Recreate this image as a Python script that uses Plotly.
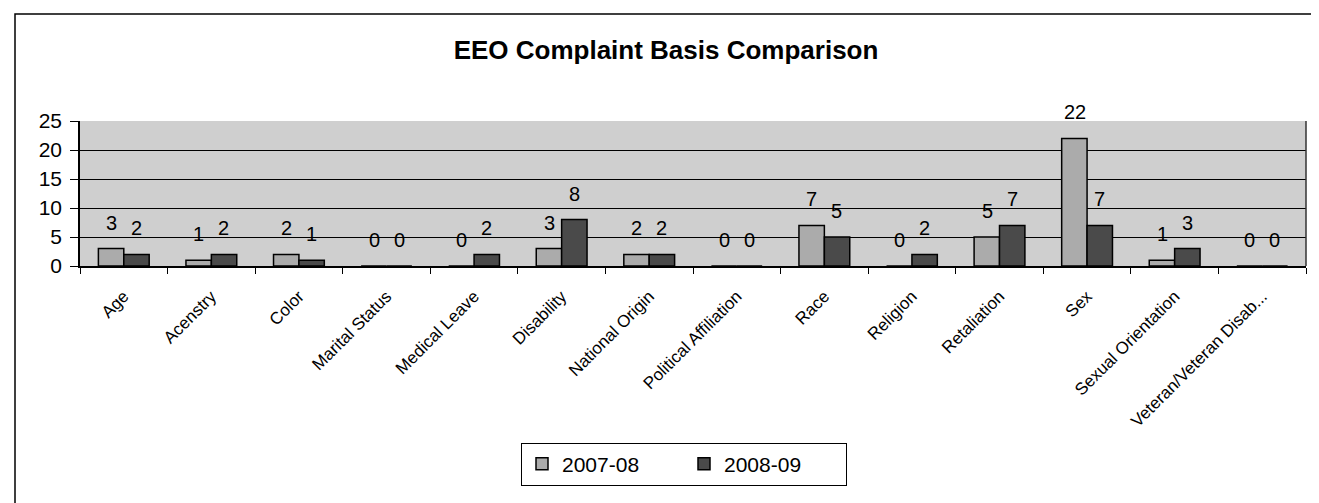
import plotly.graph_objects as go

categories = ["Age", "Acenstry", "Color", "Marital Status", "Medical Leave", "Disability",
              "National Origin", "Political Affiliation", "Race", "Religion", "Retaliation",
              "Sex", "Sexual Orientation", "Veteran/Veteran Disab..."]
y2007 = [3, 1, 2, 0, 0, 3, 2, 0, 7, 0, 5, 22, 1, 0]
y2008 = [2, 2, 1, 0, 2, 8, 2, 0, 5, 2, 7, 7, 3, 0]
series_names = ["2007-08", "2008-09"]
y_ticks = [0, 5, 10, 15, 20, 25]

FONT = "Liberation Sans, Arial, sans-serif"

W, H = 1319, 503
L, R, T, B = 72, 21, 113, 245
pw = W - L - R
ph = H - T - B

def px_x(x):
    return (x - L) / pw

def px_y(y):
    return (H - B - y) / ph

fig = go.Figure()
fig.add_trace(go.Bar(
    x=categories, y=y2007, name=series_names[0],
    marker=dict(color="#ababab", line=dict(color="black", width=1.5)),
))
fig.add_trace(go.Bar(
    x=categories, y=y2008, name=series_names[1],
    marker=dict(color="#4a4a4a", line=dict(color="black", width=1.5)),
))

annotations = []
for cat, v in zip(categories, y2007):
    annotations.append(dict(x=cat, y=v, text=str(v), showarrow=False, yanchor="bottom",
                            xshift=-12.5, yshift=13,
                            font=dict(size=20, family=FONT, color="black")))
for cat, v in zip(categories, y2008):
    annotations.append(dict(x=cat, y=v, text=str(v), showarrow=False, yanchor="bottom",
                            xshift=12.5, yshift=13,
                            font=dict(size=20, family=FONT, color="black")))

fig.update_layout(
    width=W, height=H,
    margin=dict(l=L, r=R, t=T, b=B, autoexpand=False),
    paper_bgcolor="white",
    plot_bgcolor="#cfcfcf",
    barmode="group", bargap=0.42, bargroupgap=0,
    font=dict(family=FONT, color="black"),
    title=dict(text="<b>EEO Complaint Basis Comparison</b>", x=658 / W, xanchor="center",
               y=1 - 42 / H, yanchor="middle", font=dict(size=26, family=FONT)),
    showlegend=True,
    legend=dict(orientation="h", x=px_x(676), xanchor="center", y=px_y(456), yanchor="middle",
                bordercolor="black", borderwidth=1, bgcolor="white",
                font=dict(size=21, family=FONT), entrywidth=117),
    xaxis=dict(tickangle=-45, tickfont=dict(size=17, family=FONT), ticks="outside",
               tickson="boundaries", ticklen=6, tickcolor="black", showline=True,
               linecolor="black", linewidth=1.5, showgrid=False, ticklabelstandoff=12),
    yaxis=dict(range=[0, 25], tickvals=y_ticks, ticks="outside", ticklen=8, tickcolor="black",
               showline=True, linecolor="black", linewidth=1.5, showgrid=True,
               gridcolor="black", gridwidth=1, tickfont=dict(size=21, family=FONT),
               zeroline=False, ticklabelstandoff=4),
    annotations=annotations,
    shapes=[
        dict(type="rect", xref="paper", yref="paper",
             x0=px_x(7), x1=px_x(1313), y0=px_y(500), y1=px_y(6),
             line=dict(color="black", width=1.5), fillcolor="rgba(0,0,0,0)", layer="below"),
        dict(type="line", xref="paper", yref="paper", x0=1, x1=1, y0=0, y1=1,
             line=dict(color="#333333", width=1.5)),
    ],
)

fig.write_html("out.html")
